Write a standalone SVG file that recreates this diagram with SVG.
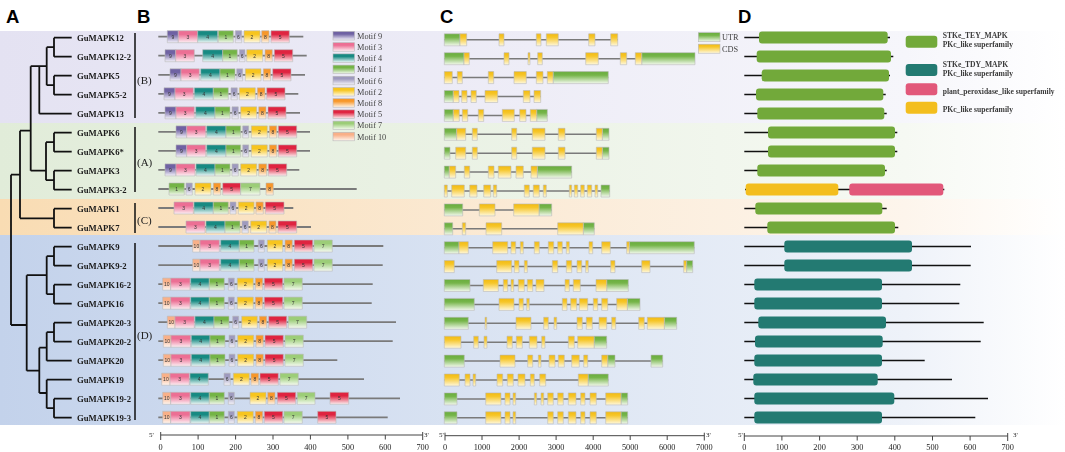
<svg xmlns="http://www.w3.org/2000/svg" width="1065" height="452" viewBox="0 0 1065 452">
<defs>
<filter id="gs" x="-0.05" y="-0.2" width="1.1" height="1.4"><feOffset dx="0" dy="0"/></filter>
<linearGradient id="bgP" x1="0" y1="0" x2="1" y2="0"><stop offset="0" stop-color="#e4e2f2"/><stop offset=".5" stop-color="#eeedf7"/><stop offset=".85" stop-color="#f6f6fb"/><stop offset="1" stop-color="#fff"/></linearGradient>
<linearGradient id="bgG" x1="0" y1="0" x2="1" y2="0"><stop offset="0" stop-color="#e1ecd9"/><stop offset=".5" stop-color="#ecf3e7"/><stop offset=".85" stop-color="#f6f9f3"/><stop offset="1" stop-color="#fff"/></linearGradient>
<linearGradient id="bgO" x1="0" y1="0" x2="1" y2="0"><stop offset="0" stop-color="#f9dcb3"/><stop offset=".5" stop-color="#fbebd7"/><stop offset=".85" stop-color="#fdf5ec"/><stop offset="1" stop-color="#fff"/></linearGradient>
<linearGradient id="bgB" x1="0" y1="0" x2="1" y2="0"><stop offset="0" stop-color="#c3d2eb"/><stop offset=".5" stop-color="#dce5f3"/><stop offset=".85" stop-color="#eef2f9"/><stop offset="1" stop-color="#fff"/></linearGradient>
<linearGradient id="g9" x1="0" y1="0" x2="0" y2="1"><stop offset="0" stop-color="#6f62a3"/><stop offset=".3" stop-color="#6f62a3"/><stop offset="1" stop-color="#f4f2fa"/></linearGradient>
<linearGradient id="g3" x1="0" y1="0" x2="0" y2="1"><stop offset="0" stop-color="#ec6f94"/><stop offset=".3" stop-color="#ec6f94"/><stop offset="1" stop-color="#fdf0f4"/></linearGradient>
<linearGradient id="g4" x1="0" y1="0" x2="0" y2="1"><stop offset="0" stop-color="#178a82"/><stop offset=".3" stop-color="#178a82"/><stop offset="1" stop-color="#eef8f7"/></linearGradient>
<linearGradient id="g1" x1="0" y1="0" x2="0" y2="1"><stop offset="0" stop-color="#74b446"/><stop offset=".3" stop-color="#74b446"/><stop offset="1" stop-color="#f2f9ed"/></linearGradient>
<linearGradient id="g6" x1="0" y1="0" x2="0" y2="1"><stop offset="0" stop-color="#9e9abe"/><stop offset=".3" stop-color="#9e9abe"/><stop offset="1" stop-color="#f5f4fa"/></linearGradient>
<linearGradient id="g2" x1="0" y1="0" x2="0" y2="1"><stop offset="0" stop-color="#f7c51e"/><stop offset=".3" stop-color="#f7c51e"/><stop offset="1" stop-color="#fffbea"/></linearGradient>
<linearGradient id="g8" x1="0" y1="0" x2="0" y2="1"><stop offset="0" stop-color="#f7972a"/><stop offset=".3" stop-color="#f7972a"/><stop offset="1" stop-color="#fff4e8"/></linearGradient>
<linearGradient id="g5" x1="0" y1="0" x2="0" y2="1"><stop offset="0" stop-color="#df2440"/><stop offset=".3" stop-color="#df2440"/><stop offset="1" stop-color="#fdeef0"/></linearGradient>
<linearGradient id="g7" x1="0" y1="0" x2="0" y2="1"><stop offset="0" stop-color="#9ccd78"/><stop offset=".3" stop-color="#9ccd78"/><stop offset="1" stop-color="#f6fbf2"/></linearGradient>
<linearGradient id="g10" x1="0" y1="0" x2="0" y2="1"><stop offset="0" stop-color="#f9b088"/><stop offset=".3" stop-color="#f9b088"/><stop offset="1" stop-color="#fff6f0"/></linearGradient>
<linearGradient id="gu" x1="0" y1="0" x2="0" y2="1"><stop offset="0" stop-color="#68ad3c"/><stop offset=".3" stop-color="#76b54a"/><stop offset="1" stop-color="#f3f9ee"/></linearGradient>
<linearGradient id="gc" x1="0" y1="0" x2="0" y2="1"><stop offset="0" stop-color="#f3bb10"/><stop offset=".3" stop-color="#f6c62a"/><stop offset="1" stop-color="#fff8dc"/></linearGradient>
</defs>
<style>
.pl{font-family:"Liberation Sans",Arial,sans-serif;font-weight:bold;font-size:18.5px;fill:#000}
.tl{font-family:"Liberation Serif","Times New Roman",serif;font-weight:bold;font-size:8.7px;fill:#1a1a1a}
.grp{font-family:"Liberation Serif","Times New Roman",serif;font-size:11px;fill:#222}
.tree{fill:none;stroke:#111;stroke-width:1.8}
.br{stroke:#111;stroke-width:1.5}
.ln{stroke:#7a7a7a;stroke-width:1.8}
.ln2{stroke:#7a7a7a;stroke-width:1.5}
.b{stroke:#b8b8b8;stroke-width:.6}
.m9{fill:url(#g9)}.m3{fill:url(#g3)}.m4{fill:url(#g4)}.m1{fill:url(#g1)}.m6{fill:url(#g6)}
.m2{fill:url(#g2)}.m8{fill:url(#g8)}.m5{fill:url(#g5)}.m7{fill:url(#g7)}.m10{fill:url(#g10)}
.n{font-family:"Liberation Sans",Arial,sans-serif;font-size:5px;fill:#333;text-anchor:middle;dominant-baseline:central;filter:url(#gs)}
.lg{font-family:"Liberation Serif","Times New Roman",serif;font-size:8.3px;fill:#444}
.u{fill:url(#gu);stroke:#b8b8b8;stroke-width:.6}
.c{fill:url(#gc);stroke:#b8b8b8;stroke-width:.6}
.ax{stroke:#444;stroke-width:1;fill:none}
.at{font-family:"Liberation Serif","Times New Roman",serif;font-size:8.3px;fill:#222;text-anchor:middle}
.pr{font-family:"Liberation Serif","Times New Roman",serif;font-size:7px;fill:#222}
.dl{stroke:#111;stroke-width:1.6}
.dg{fill:#72a93a}.dt{fill:#237a72}.dp{fill:#e2587a}.dy{fill:#f3be1e}
.dlg{font-family:"Liberation Serif","Times New Roman",serif;font-weight:bold;font-size:7.6px;fill:#3a3a3a}
.gs{filter:url(#gs)}
</style>

<g id="backgrounds">
<rect x="0" y="31" width="1065" height="92" fill="url(#bgP)"/>
<rect x="0" y="123" width="1065" height="76" fill="url(#bgG)"/>
<rect x="0" y="199" width="1065" height="36" fill="url(#bgO)"/>
<rect x="0" y="235" width="1065" height="190" fill="url(#bgB)"/>
</g>

<g id="panel-labels">
<text class="pl" x="6" y="23">A</text>
<text class="pl" x="137" y="23">B</text>
<text class="pl" x="440" y="23">C</text>
<text class="pl" x="738" y="23">D</text>
</g>

<g id="tree-connectors">
<path class="tree" d="M54 37.7H71.7M54 56.7H71.7M54 37.7V56.7M54 75.7H71.7M54 94.7H71.7M54 75.7V94.7M46.7 47.2H54M46.7 85.2H54M46.7 47.2V85.2M39.3 66.2H46.7M39.3 113.7H71.7M39.3 66.2V113.7M30.7 66.2H39.3
M54 132.7H71.7M54 151.7H71.7M54 132.7V151.7M54 170.7H71.7M54 189.7H71.7M54 170.7V189.7M46 142.2H54M46 180.2H54M46 142.2V180.2M30.7 170.7H46M30.7 66.2V170.7M20 130.7H30.7
M54 208.7H71.7M54 227.7H71.7M54 208.7V227.7M20 218.3H54M20 130.7V218.3M11 174.7H20M11 174.7V325M11 325H26.7
M54 246.7H71.7M54 265.7H71.7M54 246.7V265.7M54 284.7H71.7M54 303.7H71.7M54 284.7V303.7M46.7 256.2H54M46.7 294.2H54M46.7 256.2V294.2M26.7 275.2H46.7M26.7 275.2V370.7M26.7 370.7H39.3
M54 322.7H71.7M54 341.7H71.7M54 322.7V341.7M46.7 332.2H54M46.7 360.7H71.7M46.7 332.2V360.7M39.3 347.7H46.7
M46.7 379.7H71.7M54 398.7H71.7M54 417.7H71.7M54 398.7V417.7M46.7 408.2H54M46.7 379.7V408.2M39.3 393H46.7M39.3 347.7V393"/>
</g>

<g id="gene-labels" class="gs">
<text class="tl" x="77" y="40.7">GuMAPK12</text>
<text class="tl" x="77" y="59.7">GuMAPK12-2</text>
<text class="tl" x="77" y="78.7">GuMAPK5</text>
<text class="tl" x="77" y="97.7">GuMAPK5-2</text>
<text class="tl" x="77" y="116.7">GuMAPK13</text>
<text class="tl" x="77" y="135.7">GuMAPK6</text>
<text class="tl" x="77" y="154.7">GuMAPK6*</text>
<text class="tl" x="77" y="173.7">GuMAPK3</text>
<text class="tl" x="77" y="192.7">GuMAPK3-2</text>
<text class="tl" x="77" y="211.7">GuMAPK1</text>
<text class="tl" x="77" y="230.7">GuMAPK7</text>
<text class="tl" x="77" y="249.7">GuMAPK9</text>
<text class="tl" x="77" y="268.7">GuMAPK9-2</text>
<text class="tl" x="77" y="287.7">GuMAPK16-2</text>
<text class="tl" x="77" y="306.7">GuMAPK16</text>
<text class="tl" x="77" y="325.7">GuMAPK20-3</text>
<text class="tl" x="77" y="344.7">GuMAPK20-2</text>
<text class="tl" x="77" y="363.7">GuMAPK20</text>
<text class="tl" x="77" y="382.7">GuMAPK19</text>
<text class="tl" x="77" y="401.7">GuMAPK19-2</text>
<text class="tl" x="77" y="420.7">GuMAPK19-3</text>
</g>

<g id="group-brackets">
<path class="br" d="M135 33V118M135 127V192M135 203V233M135 243V420"/>
<g class="gs">
<text class="grp" x="137" y="84">(B)</text>
<text class="grp" x="137" y="166">(A)</text>
<text class="grp" x="137" y="224">(C)</text>
<text class="grp" x="137" y="339">(D)</text>
</g>
</g>

<g id="panel-B-motifs">
<g id="motif-GuMAPK12" transform="translate(0,36.7)">
<path class="ln" d="M158.3 0H303.3"/>
<path class="b m9" d="M167.3-6H178.3V6H167.3Z"/><path class="b m3" d="M178.3-6H197.7V6H178.3Z"/><path class="b m4" d="M197.7-6H217.7V6H197.7Z"/><path class="b m1" d="M218.3-6H233.3V6H218.3Z"/><path class="b m6" d="M235.3-6H241.7V6H235.3Z"/><path class="b m2" d="M244-6H260V6H244Z"/><path class="b m8" d="M261.7-6H269V6H261.7Z"/><path class="b m5" d="M271-6H289.3V6H271Z"/>
<g class="n"><text x="172.8">9</text><text x="188">3</text><text x="207.7">4</text><text x="225.8">1</text><text x="238.5">6</text><text x="252">2</text><text x="265.4">8</text><text x="280.2">5</text></g>
</g>
<g id="motif-GuMAPK12-2" transform="translate(0,55.7)">
<path class="ln" d="M158.3 0H306.7"/>
<path class="b m9" d="M165-6H175.7V6H165Z"/><path class="b m3" d="M175.7-6H194.3V6H175.7Z"/><path class="b m4" d="M202.7-6H222.7V6H202.7Z"/><path class="b m1" d="M222.7-6H237.3V6H222.7Z"/><path class="b m6" d="M239.3-6H245V6H239.3Z"/><path class="b m2" d="M246.7-6H262.7V6H246.7Z"/><path class="b m8" d="M265-6H272.3V6H265Z"/><path class="b m5" d="M274.3-6H292.7V6H274.3Z"/>
<g class="n"><text x="170.4">9</text><text x="185">3</text><text x="212.7">4</text><text x="230">1</text><text x="242.2">6</text><text x="254.7">2</text><text x="268.7">8</text><text x="283.5">5</text></g>
</g>
<g id="motif-GuMAPK5" transform="translate(0,74.8)">
<path class="ln" d="M158.3 0H305"/>
<path class="b m9" d="M170-6H181V6H170Z"/><path class="b m3" d="M181-6H199.3V6H181Z"/><path class="b m4" d="M200.7-6H220V6H200.7Z"/><path class="b m1" d="M220-6H235V6H220Z"/><path class="b m6" d="M236.7-6H242.7V6H236.7Z"/><path class="b m2" d="M245.3-6H261V6H245.3Z"/><path class="b m8" d="M263.3-6H270.7V6H263.3Z"/><path class="b m5" d="M272.7-6H291V6H272.7Z"/>
<g class="n"><text x="175.5">9</text><text x="190.2">3</text><text x="210.4">4</text><text x="227.5">1</text><text x="239.7">6</text><text x="253.2">2</text><text x="267">8</text><text x="281.9">5</text></g>
</g>
<g id="motif-GuMAPK5-2" transform="translate(0,93.8)">
<path class="ln" d="M158.3 0H298.3"/>
<path class="b m9" d="M164-6H175V6H164Z"/><path class="b m3" d="M175-6H193.3V6H175Z"/><path class="b m4" d="M194.3-6H213.3V6H194.3Z"/><path class="b m1" d="M213.3-6H228.3V6H213.3Z"/><path class="b m6" d="M231-6H237.3V6H231Z"/><path class="b m2" d="M239.3-6H255.3V6H239.3Z"/><path class="b m8" d="M257.3-6H265V6H257.3Z"/><path class="b m5" d="M266.7-6H285V6H266.7Z"/>
<g class="n"><text x="169.5">9</text><text x="184.2">3</text><text x="203.8">4</text><text x="220.8">1</text><text x="234.2">6</text><text x="247.3">2</text><text x="261.2">8</text><text x="275.9">5</text></g>
</g>
<g id="motif-GuMAPK13" transform="translate(0,112.8)">
<path class="ln" d="M158.3 0H300"/>
<path class="b m9" d="M165-6H176V6H165Z"/><path class="b m3" d="M176-6H194.3V6H176Z"/><path class="b m4" d="M195.7-6H215V6H195.7Z"/><path class="b m1" d="M215-6H230V6H215Z"/><path class="b m6" d="M232-6H238.3V6H232Z"/><path class="b m2" d="M240.7-6H256.7V6H240.7Z"/><path class="b m8" d="M258.7-6H266V6H258.7Z"/><path class="b m5" d="M268-6H286V6H268Z"/>
<g class="n"><text x="170.5">9</text><text x="185.2">3</text><text x="205.4">4</text><text x="222.5">1</text><text x="235.2">6</text><text x="248.7">2</text><text x="262.4">8</text><text x="277">5</text></g>
</g>
<g id="motif-GuMAPK6" transform="translate(0,131.9)">
<path class="ln" d="M158.3 0H310"/>
<path class="b m9" d="M176-6H186.7V6H176Z"/><path class="b m3" d="M186.7-6H205.7V6H186.7Z"/><path class="b m4" d="M206.7-6H226V6H206.7Z"/><path class="b m1" d="M226-6H240.7V6H226Z"/><path class="b m6" d="M242.7-6H248.7V6H242.7Z"/><path class="b m2" d="M251.3-6H267.3V6H251.3Z"/><path class="b m8" d="M269.3-6H276.7V6H269.3Z"/><path class="b m5" d="M278.3-6H296.7V6H278.3Z"/>
<g class="n"><text x="181.4">9</text><text x="196.2">3</text><text x="216.4">4</text><text x="233.4">1</text><text x="245.7">6</text><text x="259.3">2</text><text x="273">8</text><text x="287.5">5</text></g>
</g>
<g id="motif-GuMAPK6star" transform="translate(0,150.9)">
<path class="ln" d="M158.3 0H310"/>
<path class="b m9" d="M176-6H186.7V6H176Z"/><path class="b m3" d="M186.7-6H205.7V6H186.7Z"/><path class="b m4" d="M206.7-6H226V6H206.7Z"/><path class="b m1" d="M226-6H240.7V6H226Z"/><path class="b m6" d="M242.7-6H248.7V6H242.7Z"/><path class="b m2" d="M251.3-6H267.3V6H251.3Z"/><path class="b m8" d="M269.3-6H276.7V6H269.3Z"/><path class="b m5" d="M278.3-6H296.7V6H278.3Z"/>
<g class="n"><text x="181.4">9</text><text x="196.2">3</text><text x="216.4">4</text><text x="233.4">1</text><text x="245.7">6</text><text x="259.3">2</text><text x="273">8</text><text x="287.5">5</text></g>
</g>
<g id="motif-GuMAPK3" transform="translate(0,169.9)">
<path class="ln" d="M158.3 0H299.3"/>
<path class="b m9" d="M165-6H176V6H165Z"/><path class="b m3" d="M176-6H195V6H176Z"/><path class="b m4" d="M196-6H215V6H196Z"/><path class="b m1" d="M215-6H230V6H215Z"/><path class="b m6" d="M232-6H238.3V6H232Z"/><path class="b m2" d="M240.7-6H256.7V6H240.7Z"/><path class="b m8" d="M258.7-6H266.7V6H258.7Z"/><path class="b m5" d="M268.3-6H286.7V6H268.3Z"/>
<g class="n"><text x="170.5">9</text><text x="185.5">3</text><text x="205.5">4</text><text x="222.5">1</text><text x="235.2">6</text><text x="248.7">2</text><text x="262.7">8</text><text x="277.5">5</text></g>
</g>
<g id="motif-GuMAPK3-2" transform="translate(0,189)">
<path class="ln" d="M158.3 0H356.7"/>
<path class="b m1" d="M169-6H184.3V6H169Z"/><path class="b m6" d="M186-6H192.3V6H186Z"/><path class="b m2" d="M195-6H211V6H195Z"/><path class="b m8" d="M213.3-6H220.7V6H213.3Z"/><path class="b m5" d="M222.7-6H240.7V6H222.7Z"/><path class="b m7" d="M240.7-6H260V6H240.7Z"/><path class="b m8" d="M266-6H273.3V6H266Z"/>
<g class="n"><text x="176.7">1</text><text x="189.2">6</text><text x="203">2</text><text x="217">8</text><text x="231.7">5</text><text x="250.4">7</text><text x="269.7">8</text></g>
</g>
<g id="motif-GuMAPK1" transform="translate(0,208)">
<path class="ln" d="M158.3 0H293.3"/>
<path class="b m3" d="M174-6H193.3V6H174Z"/><path class="b m4" d="M194-6H213.3V6H194Z"/><path class="b m1" d="M213.3-6H228.3V6H213.3Z"/><path class="b m6" d="M230-6H236V6H230Z"/><path class="b m2" d="M238.3-6H254V6H238.3Z"/><path class="b m8" d="M256-6H263.3V6H256Z"/><path class="b m5" d="M265.3-6H284V6H265.3Z"/>
<g class="n"><text x="183.7">3</text><text x="203.7">4</text><text x="220.8">1</text><text x="233">6</text><text x="246.2">2</text><text x="259.7">8</text><text x="274.7">5</text></g>
</g>
<g id="motif-GuMAPK7" transform="translate(0,227)">
<path class="ln" d="M158.3 0H311"/>
<path class="b m3" d="M186-6H205V6H186Z"/><path class="b m4" d="M206-6H225V6H206Z"/><path class="b m1" d="M225-6H240V6H225Z"/><path class="b m6" d="M242-6H248.3V6H242Z"/><path class="b m2" d="M250.7-6H266.7V6H250.7Z"/><path class="b m8" d="M269-6H276V6H269Z"/><path class="b m5" d="M278-6H296.7V6H278Z"/>
<g class="n"><text x="195.5">3</text><text x="215.5">4</text><text x="232.5">1</text><text x="245.2">6</text><text x="258.7">2</text><text x="272.5">8</text><text x="287.4">5</text></g>
</g>
<g id="motif-GuMAPK9" transform="translate(0,246)">
<path class="ln" d="M158.3 0H383.3"/>
<path class="b m10" d="M192.7-6H200V6H192.7Z"/><path class="b m3" d="M200-6H219.3V6H200Z"/><path class="b m4" d="M220.7-6H239.3V6H220.7Z"/><path class="b m1" d="M239.3-6H254V6H239.3Z"/><path class="b m6" d="M258.3-6H264.3V6H258.3Z"/><path class="b m2" d="M267.3-6H282.7V6H267.3Z"/><path class="b m8" d="M285-6H292.3V6H285Z"/><path class="b m5" d="M294.3-6H312.7V6H294.3Z"/><path class="b m7" d="M314-6H332.3V6H314Z"/>
<g class="n"><text x="196.4">10</text><text x="209.7">3</text><text x="230">4</text><text x="246.7">1</text><text x="261.3">6</text><text x="275">2</text><text x="288.7">8</text><text x="303.5">5</text><text x="323.2">7</text></g>
</g>
<g id="motif-GuMAPK9-2" transform="translate(0,265.1)">
<path class="ln" d="M158.3 0H382.7"/>
<path class="b m10" d="M192.7-6H200V6H192.7Z"/><path class="b m3" d="M200-6H219.3V6H200Z"/><path class="b m4" d="M220.7-6H239.3V6H220.7Z"/><path class="b m1" d="M239.3-6H254V6H239.3Z"/><path class="b m6" d="M258.3-6H264.3V6H258.3Z"/><path class="b m2" d="M267.3-6H282.7V6H267.3Z"/><path class="b m8" d="M285-6H292.3V6H285Z"/><path class="b m5" d="M294.3-6H312.7V6H294.3Z"/><path class="b m7" d="M314-6H332.3V6H314Z"/>
<g class="n"><text x="196.4">10</text><text x="209.7">3</text><text x="230">4</text><text x="246.7">1</text><text x="261.3">6</text><text x="275">2</text><text x="288.7">8</text><text x="303.5">5</text><text x="323.2">7</text></g>
</g>
<g id="motif-GuMAPK16-2" transform="translate(0,284.1)">
<path class="ln" d="M158.3 0H372.7"/>
<path class="b m10" d="M162.7-6H170.7V6H162.7Z"/><path class="b m3" d="M170.7-6H190V6H170.7Z"/><path class="b m4" d="M190.7-6H209.3V6H190.7Z"/><path class="b m1" d="M209.3-6H224.3V6H209.3Z"/><path class="b m6" d="M228.3-6H234.3V6H228.3Z"/><path class="b m2" d="M237.3-6H253.3V6H237.3Z"/><path class="b m8" d="M255.3-6H262.7V6H255.3Z"/><path class="b m5" d="M264.3-6H282.7V6H264.3Z"/><path class="b m7" d="M284-6H302.3V6H284Z"/>
<g class="n"><text x="166.7">10</text><text x="180.4">3</text><text x="200">4</text><text x="216.8">1</text><text x="231.3">6</text><text x="245.3">2</text><text x="259">8</text><text x="273.5">5</text><text x="293.2">7</text></g>
</g>
<g id="motif-GuMAPK16" transform="translate(0,303.1)">
<path class="ln" d="M158.3 0H371.7"/>
<path class="b m10" d="M162.7-6H170.7V6H162.7Z"/><path class="b m3" d="M170.7-6H190V6H170.7Z"/><path class="b m4" d="M190.7-6H209.3V6H190.7Z"/><path class="b m1" d="M209.3-6H224.3V6H209.3Z"/><path class="b m6" d="M228.3-6H234.3V6H228.3Z"/><path class="b m2" d="M237.3-6H253.3V6H237.3Z"/><path class="b m8" d="M255.3-6H262.7V6H255.3Z"/><path class="b m5" d="M264.3-6H282.7V6H264.3Z"/><path class="b m7" d="M284-6H302.3V6H284Z"/>
<g class="n"><text x="166.7">10</text><text x="180.4">3</text><text x="200">4</text><text x="216.8">1</text><text x="231.3">6</text><text x="245.3">2</text><text x="259">8</text><text x="273.5">5</text><text x="293.2">7</text></g>
</g>
<g id="motif-GuMAPK20-3" transform="translate(0,322.2)">
<path class="ln" d="M158.3 0H396"/>
<path class="b m10" d="M167.3-6H175V6H167.3Z"/><path class="b m3" d="M175-6H194.3V6H175Z"/><path class="b m4" d="M195-6H214V6H195Z"/><path class="b m1" d="M214-6H229V6H214Z"/><path class="b m6" d="M232.7-6H238.7V6H232.7Z"/><path class="b m2" d="M241.7-6H257.3V6H241.7Z"/><path class="b m8" d="M259.3-6H266.7V6H259.3Z"/><path class="b m5" d="M268.7-6H286.7V6H268.7Z"/><path class="b m7" d="M288.3-6H306.7V6H288.3Z"/>
<g class="n"><text x="171.2">10</text><text x="184.7">3</text><text x="204.5">4</text><text x="221.5">1</text><text x="235.7">6</text><text x="249.5">2</text><text x="263">8</text><text x="277.7">5</text><text x="297.5">7</text></g>
</g>
<g id="motif-GuMAPK20-2" transform="translate(0,341.2)">
<path class="ln" d="M158.3 0H392.7"/>
<path class="b m10" d="M163.3-6H171V6H163.3Z"/><path class="b m3" d="M171-6H190.7V6H171Z"/><path class="b m4" d="M191.3-6H210V6H191.3Z"/><path class="b m1" d="M210-6H225V6H210Z"/><path class="b m6" d="M229-6H235V6H229Z"/><path class="b m2" d="M237.7-6H253.7V6H237.7Z"/><path class="b m8" d="M256-6H263.3V6H256Z"/><path class="b m5" d="M265-6H283.3V6H265Z"/><path class="b m7" d="M285-6H303.3V6H285Z"/>
<g class="n"><text x="167.2">10</text><text x="180.9">3</text><text x="200.7">4</text><text x="217.5">1</text><text x="232">6</text><text x="245.7">2</text><text x="259.7">8</text><text x="274.2">5</text><text x="294.2">7</text></g>
</g>
<g id="motif-GuMAPK20" transform="translate(0,360.2)">
<path class="ln" d="M158.3 0H337.3"/>
<path class="b m10" d="M163.3-6H171V6H163.3Z"/><path class="b m3" d="M171-6H190.7V6H171Z"/><path class="b m4" d="M191.3-6H210V6H191.3Z"/><path class="b m1" d="M210-6H225V6H210Z"/><path class="b m6" d="M229-6H235V6H229Z"/><path class="b m2" d="M237.7-6H253.7V6H237.7Z"/><path class="b m8" d="M256-6H263.3V6H256Z"/><path class="b m5" d="M265-6H283.3V6H265Z"/><path class="b m7" d="M285-6H303.3V6H285Z"/>
<g class="n"><text x="167.2">10</text><text x="180.9">3</text><text x="200.7">4</text><text x="217.5">1</text><text x="232">6</text><text x="245.7">2</text><text x="259.7">8</text><text x="274.2">5</text><text x="294.2">7</text></g>
</g>
<g id="motif-GuMAPK19" transform="translate(0,379.2)">
<path class="ln" d="M158.3 0H364"/>
<path class="b m10" d="M161.7-6H170V6H161.7Z"/><path class="b m3" d="M170-6H189.3V6H170Z"/><path class="b m4" d="M190-6H208.3V6H190Z"/><path class="b m6" d="M224-6H230.3V6H224Z"/><path class="b m2" d="M233.3-6H249.3V6H233.3Z"/><path class="b m8" d="M251-6H258.7V6H251Z"/><path class="b m5" d="M260-6H278.3V6H260Z"/><path class="b m7" d="M280-6H298.3V6H280Z"/>
<g class="n"><text x="165.9">10</text><text x="179.7">3</text><text x="199.2">4</text><text x="227.2">6</text><text x="241.3">2</text><text x="254.9">8</text><text x="269.2">5</text><text x="289.2">7</text></g>
</g>
<g id="motif-GuMAPK19-2" transform="translate(0,398.3)">
<path class="ln" d="M158.3 0H400"/>
<path class="b m10" d="M162.7-6H170.7V6H162.7Z"/><path class="b m3" d="M170.7-6H190V6H170.7Z"/><path class="b m4" d="M190.7-6H209.3V6H190.7Z"/><path class="b m1" d="M209.3-6H224.3V6H209.3Z"/><path class="b m6" d="M228.3-6H234.3V6H228.3Z"/><path class="b m2" d="M250-6H266V6H250Z"/><path class="b m8" d="M267.7-6H275V6H267.7Z"/><path class="b m5" d="M277.3-6H295.7V6H277.3Z"/><path class="b m7" d="M297.3-6H315V6H297.3Z"/><path class="b m5" d="M330-6H348.7V6H330Z"/>
<g class="n"><text x="166.7">10</text><text x="180.4">3</text><text x="200">4</text><text x="216.8">1</text><text x="231.3">6</text><text x="258">2</text><text x="271.4">8</text><text x="286.5">5</text><text x="306.2">7</text><text x="339.4">5</text></g>
</g>
<g id="motif-GuMAPK19-3" transform="translate(0,417.3)">
<path class="ln" d="M158.3 0H387.7"/>
<path class="b m10" d="M162.7-6H170.7V6H162.7Z"/><path class="b m3" d="M170.7-6H190V6H170.7Z"/><path class="b m4" d="M190.7-6H209.3V6H190.7Z"/><path class="b m1" d="M209.3-6H224.3V6H209.3Z"/><path class="b m6" d="M228.3-6H234.3V6H228.3Z"/><path class="b m2" d="M237.3-6H253.3V6H237.3Z"/><path class="b m8" d="M255.3-6H262.7V6H255.3Z"/><path class="b m5" d="M264.3-6H282.7V6H264.3Z"/><path class="b m7" d="M284-6H302.3V6H284Z"/><path class="b m5" d="M317.7-6H336V6H317.7Z"/>
<g class="n"><text x="166.7">10</text><text x="180.4">3</text><text x="200">4</text><text x="216.8">1</text><text x="231.3">6</text><text x="245.3">2</text><text x="259">8</text><text x="273.5">5</text><text x="293.2">7</text><text x="326.9">5</text></g>
</g>
</g>

<g id="motif-legend">
<rect class="b m9" x="333" y="31.5" width="21.5" height="8.5"/>
<rect class="b m3" x="333" y="42.7" width="21.5" height="8.5"/>
<rect class="b m4" x="333" y="53.9" width="21.5" height="8.5"/>
<rect class="b m1" x="333" y="65.1" width="21.5" height="8.5"/>
<rect class="b m6" x="333" y="76.3" width="21.5" height="8.5"/>
<rect class="b m2" x="333" y="87.5" width="21.5" height="8.5"/>
<rect class="b m8" x="333" y="98.7" width="21.5" height="8.5"/>
<rect class="b m5" x="333" y="109.9" width="21.5" height="8.5"/>
<rect class="b m7" x="333" y="121.1" width="21.5" height="8.5"/>
<rect class="b m10" x="333" y="132.3" width="21.5" height="8.5"/>
<g class="gs">
<text class="lg" x="357" y="38.8">Motif 9</text>
<text class="lg" x="357" y="50">Motif 3</text>
<text class="lg" x="357" y="61.2">Motif 4</text>
<text class="lg" x="357" y="72.4">Motif 1</text>
<text class="lg" x="357" y="83.6">Motif 6</text>
<text class="lg" x="357" y="94.8">Motif 2</text>
<text class="lg" x="357" y="106">Motif 8</text>
<text class="lg" x="357" y="117.2">Motif 5</text>
<text class="lg" x="357" y="128.4">Motif 7</text>
<text class="lg" x="357" y="139.6">Motif 10</text>
</g>
</g>

<g id="axis-B">
<path class="ax" d="M160.7 435H422.7M160.7 432V440M198.1 435V439.5M235.6 435V439.5M273 435V439.5M310.4 435V439.5M347.9 435V439.5M385.3 435V439.5M422.7 432V440"/>
<g class="gs">
<text class="pr" x="149" y="437">5'</text><text class="pr" x="424" y="437">3'</text>
<text class="at" x="160.7" y="450">0</text><text class="at" x="198.1" y="450">100</text><text class="at" x="235.6" y="450">200</text><text class="at" x="273" y="450">300</text><text class="at" x="310.4" y="450">400</text><text class="at" x="347.9" y="450">500</text><text class="at" x="385.3" y="450">600</text><text class="at" x="422.7" y="450">700</text>
</g>
</g>

<g id="panel-C-genes">
<g id="gene-GuMAPK12" transform="translate(0,39.8)"><path class="ln2" d="M444.3 0H617.7"/><path class="u" d="M444.3-6H460V6H444.3Z"/><path class="c" d="M460-6H466.7V6H460ZM499-6H504V6H499ZM536.3-6H541V6H536.3ZM546.3-6H558.3V6H546.3ZM588.7-6H595V6H588.7ZM610.7-6H617.7V6H610.7Z"/></g>
<g id="gene-GuMAPK12-2" transform="translate(0,58.7)"><path class="ln2" d="M444.3 0H695"/><path class="u" d="M444.3-6H464V6H444.3ZM641.7-6H695V6H641.7Z"/><path class="c" d="M464-6H469.3V6H464ZM504-6H509V6H504ZM528-6H530V6H528ZM537.7-6H542.3V6H537.7ZM585.7-6H598.3V6H585.7ZM620.3-6H626.7V6H620.3ZM635.3-6H641.7V6H635.3Z"/></g>
<g id="gene-GuMAPK5" transform="translate(0,77.6)"><path class="ln2" d="M444.3 0H608.3"/><path class="c" d="M444.3-6H452.3V6H444.3ZM457.3-6H462.3V6H457.3ZM488.3-6H493.7V6H488.3ZM514-6H526.3V6H514ZM536.3-6H543V6H536.3ZM547.3-6H553.3V6H547.3Z"/><path class="u" d="M553.3-6H608.3V6H553.3Z"/></g>
<g id="gene-GuMAPK5-2" transform="translate(0,96.5)"><path class="ln2" d="M444.3 0H540.7"/><path class="u" d="M444.3-6H453.3V6H444.3Z"/><path class="c" d="M453.3-6H459V6H453.3ZM461.7-6H467V6H461.7ZM471-6H476.3V6H471ZM485-6H497.7V6H485ZM523.3-6H530V6H523.3ZM534-6H540.7V6H534Z"/></g>
<g id="gene-GuMAPK13" transform="translate(0,115.4)"><path class="ln2" d="M444.3 0H547.3"/><path class="u" d="M444.3-6H453.3V6H444.3ZM536.7-6H547.3V6H536.7Z"/><path class="c" d="M453.3-6H459.3V6H453.3ZM462.3-6H467.7V6H462.3ZM478.3-6H483.7V6H478.3ZM502.3-6H514.3V6H502.3ZM519.7-6H526V6H519.7ZM530.3-6H536.7V6H530.3Z"/></g>
<g id="gene-GuMAPK6" transform="translate(0,134.3)"><path class="ln2" d="M444.3 0H609"/><path class="u" d="M444.3-6H456.7V6H444.3ZM602.3-6H609V6H602.3Z"/><path class="c" d="M456.7-6H465.7V6H456.7ZM472.3-6H477.3V6H472.3ZM511.7-6H516.7V6H511.7ZM532.3-6H545V6H532.3ZM558.3-6H565V6H558.3ZM596.3-6H602.3V6H596.3Z"/></g>
<g id="gene-GuMAPK6star" transform="translate(0,153.2)"><path class="ln2" d="M444.3 0H609"/><path class="u" d="M444.3-6H450V6H444.3ZM602.3-6H609V6H602.3Z"/><path class="c" d="M455.7-6H465.7V6H455.7ZM472.3-6H477.3V6H472.3ZM511.7-6H516.7V6H511.7ZM532.3-6H545V6H532.3ZM558.3-6H565V6H558.3ZM596.3-6H602.3V6H596.3Z"/></g>
<g id="gene-GuMAPK3" transform="translate(0,172.1)"><path class="ln2" d="M444.3 0H571.7"/><path class="u" d="M444.3-6H449.3V6H444.3ZM537.3-6H571.7V6H537.3Z"/><path class="c" d="M449.3-6H455.7V6H449.3ZM464.3-6H469.7V6H464.3ZM488.3-6H494V6H488.3ZM498.3-6H511V6H498.3ZM516-6H523.3V6H516ZM531-6H537.3V6H531Z"/></g>
<g id="gene-GuMAPK3-2" transform="translate(0,191)"><path class="ln2" d="M444.3 0H609.7"/><path class="c" d="M444.3-6H447.3V6H444.3ZM451.7-6H464.3V6H451.7ZM469.7-6H477V6H469.7ZM483.7-6H490.7V6H483.7ZM493.3-6H496.7V6H493.3ZM524.3-6H529.3V6H524.3ZM533.3-6H539.3V6H533.3ZM543.3-6H546.3V6H543.3ZM569.3-6H571.7V6H569.3ZM574.3-6H577.7V6H574.3ZM580.7-6H584.3V6H580.7ZM587.3-6H591.7V6H587.3ZM595-6H597.7V6H595Z"/><path class="u" d="M601-6H609.7V6H601Z"/></g>
<g id="gene-GuMAPK1" transform="translate(0,209.9)"><path class="ln2" d="M444.3 0H551.7"/><path class="u" d="M444.3-6H462.7V6H444.3ZM539-6H551.7V6H539Z"/><path class="c" d="M479.3-6H495V6H479.3ZM513.7-6H539V6H513.7Z"/></g>
<g id="gene-GuMAPK7" transform="translate(0,228.8)"><path class="ln2" d="M444.3 0H594.3"/><path class="u" d="M444.3-6H452.7V6H444.3ZM583.3-6H594.3V6H583.3Z"/><path class="c" d="M462.3-6H465.7V6H462.3ZM486-6H501.7V6H486ZM557.7-6H583.3V6H557.7Z"/></g>
<g id="gene-GuMAPK9" transform="translate(0,247.7)"><path class="ln2" d="M444.3 0H694.3"/><path class="u" d="M444.3-6H459V6H444.3ZM629.3-6H694.3V6H629.3Z"/><path class="c" d="M459-6H468.3V6H459ZM492.7-6H507.7V6H492.7ZM511-6H515.7V6H511ZM520.3-6H523.3V6H520.3ZM534.3-6H539.3V6H534.3ZM548.3-6H553.7V6H548.3ZM557.7-6H562.3V6H557.7ZM566.3-6H569.3V6H566.3ZM589-6H592.7V6H589ZM601.7-6H610.3V6H601.7ZM626.7-6H629.3V6H626.7Z"/></g>
<g id="gene-GuMAPK9-2" transform="translate(0,266.6)"><path class="ln2" d="M444.3 0H692.7"/><path class="c" d="M444.3-6H454.3V6H444.3ZM496.7-6H511.7V6H496.7ZM514.3-6H519V6H514.3ZM524.3-6H527.3V6H524.3ZM552.3-6H557.7V6H552.3ZM566.3-6H571.7V6H566.3ZM577-6H581.7V6H577ZM585.7-6H588.3V6H585.7ZM610.7-6H615V6H610.7ZM641.7-6H650V6H641.7ZM683.7-6H686.7V6H683.7Z"/><path class="u" d="M686.7-6H692.7V6H686.7Z"/></g>
<g id="gene-GuMAPK16-2" transform="translate(0,285.5)"><path class="ln2" d="M444.3 0H628.3"/><path class="u" d="M444.3-6H470V6H444.3ZM606.7-6H628.3V6H606.7Z"/><path class="c" d="M483.3-6H498.3V6H483.3ZM503.3-6H507.7V6H503.3ZM511-6H513.7V6H511ZM518.3-6H524.3V6H518.3ZM527.3-6H532.7V6H527.3ZM536-6H544V6H536ZM565-6H569.3V6H565ZM573.3-6H580.3V6H573.3ZM596-6H606.7V6H596Z"/></g>
<g id="gene-GuMAPK16" transform="translate(0,304.4)"><path class="ln2" d="M444.3 0H640"/><path class="u" d="M444.3-6H474.3V6H444.3ZM627.3-6H640V6H627.3Z"/><path class="c" d="M499-6H514V6H499ZM519-6H523.3V6H519ZM526.7-6H529.3V6H526.7ZM562.3-6H567V6H562.3ZM570.7-6H576.7V6H570.7ZM579.3-6H587.7V6H579.3ZM593.3-6H597.7V6H593.3ZM601.7-6H607.7V6H601.7ZM616.7-6H627.3V6H616.7Z"/></g>
<g id="gene-GuMAPK20-3" transform="translate(0,323.3)"><path class="ln2" d="M444.3 0H676.7"/><path class="u" d="M444.3-6H468.3V6H444.3ZM664.3-6H676.7V6H664.3Z"/><path class="c" d="M485-6H486.7V6H485ZM516-6H531V6H516ZM543.7-6H548.3V6H543.7ZM554-6H556.7V6H554ZM577-6H582.3V6H577ZM586.3-6H592.3V6H586.3ZM599-6H606.7V6H599ZM611.7-6H615.7V6H611.7ZM638.7-6H644.3V6H638.7ZM647.3-6H664.3V6H647.3Z"/></g>
<g id="gene-GuMAPK20-2" transform="translate(0,342.2)"><path class="ln2" d="M444.3 0H606.7"/><path class="c" d="M444.3-6H461V6H444.3ZM473.7-6H478.3V6H473.7ZM484-6H487V6H484ZM507-6H512.3V6H507ZM516.3-6H522.3V6H516.3ZM529.3-6H537V6H529.3ZM541.7-6H545V6H541.7ZM568.3-6H574.3V6H568.3ZM577.7-6H594.3V6H577.7Z"/><path class="u" d="M594.3-6H606.7V6H594.3Z"/></g>
<g id="gene-GuMAPK20" transform="translate(0,361.1)"><path class="ln2" d="M444.3 0H662.7"/><path class="u" d="M444.3-6H464.3V6H444.3ZM607.7-6H615V6H607.7ZM651-6H662.7V6H651Z"/><path class="c" d="M500-6H515V6H500ZM527.7-6H532.7V6H527.7ZM538.3-6H541V6H538.3ZM549-6H555V6H549ZM558.3-6H564.3V6H558.3ZM571.7-6H579.3V6H571.7ZM583.7-6H587.7V6H583.7ZM601.7-6H607.7V6H601.7Z"/></g>
<g id="gene-GuMAPK19" transform="translate(0,380)"><path class="ln2" d="M444.3 0H608.3"/><path class="c" d="M444.3-6H459.3V6H444.3ZM465-6H470V6H465ZM473-6H475.7V6H473ZM497-6H502.7V6H497ZM507.3-6H513.3V6H507.3ZM518-6H525V6H518ZM530.3-6H534.3V6H530.3ZM539.7-6H545.7V6H539.7ZM578.3-6H588.3V6H578.3Z"/><path class="u" d="M588.3-6H608.3V6H588.3Z"/></g>
<g id="gene-GuMAPK19-2" transform="translate(0,398.9)"><path class="ln2" d="M444.3 0H627.7"/><path class="u" d="M444.3-6H457V6H444.3ZM621-6H627.7V6H621Z"/><path class="c" d="M485.7-6H501V6H485.7ZM505-6H510V6H505ZM513-6H515.7V6H513ZM534.3-6H536.7V6H534.3ZM541-6H543.7V6H541ZM547.7-6H553.3V6H547.7ZM557.7-6H563.3V6H557.7ZM568.3-6H576V6H568.3ZM580.7-6H585V6H580.7ZM590-6H596.3V6H590ZM605.7-6H621V6H605.7Z"/></g>
<g id="gene-GuMAPK19-3" transform="translate(0,417.8)"><path class="ln2" d="M444.3 0H627.7"/><path class="u" d="M444.3-6H457V6H444.3ZM621-6H627.7V6H621Z"/><path class="c" d="M485.7-6H501V6H485.7ZM505-6H510V6H505ZM513-6H515.7V6H513ZM547.7-6H553.3V6H547.7ZM557.7-6H563.3V6H557.7ZM568.3-6H576V6H568.3ZM580.7-6H585V6H580.7ZM590-6H596.3V6H590ZM605.7-6H621V6H605.7Z"/></g>
</g>

<g id="gene-legend">
<rect class="u" x="698.3" y="32.7" width="21.7" height="9"/>
<rect class="c" x="698.3" y="44.2" width="21.7" height="9"/>
<g class="gs"><text class="lg" x="722" y="40">UTR</text><text class="lg" x="722" y="51.5">CDS</text></g>
</g>

<g id="axis-C">
<path class="ax" d="M445 435.7H704.3M445 432.7V440.5M482 435.7V440M519.1 435.7V440M556.1 435.7V440M593.2 435.7V440M630.2 435.7V440M667.2 435.7V440M704.3 432.7V440.5"/>
<g class="gs">
<text class="pr" x="439" y="437">5'</text><text class="pr" x="706" y="437">3'</text>
<text class="at" x="445" y="450">0</text><text class="at" x="482" y="450">1000</text><text class="at" x="519.1" y="450">2000</text><text class="at" x="556.1" y="450">3000</text><text class="at" x="593.2" y="450">4000</text><text class="at" x="630.2" y="450">5000</text><text class="at" x="667.2" y="450">6000</text><text class="at" x="704.3" y="450">7000</text>
</g>
</g>

<g id="panel-D-domains">
<g id="domain-GuMAPK12" transform="translate(0,37.5)"><path class="dl" d="M744.3 0H890"/><rect class="dg" x="759" y="-6" width="128.7" height="12" rx="3"/></g>
<g id="domain-GuMAPK12-2" transform="translate(0,56.5)"><path class="dl" d="M744.3 0H893.3"/><rect class="dg" x="756.7" y="-6" width="134.3" height="12" rx="3"/></g>
<g id="domain-GuMAPK5" transform="translate(0,75.5)"><path class="dl" d="M744.3 0H890"/><rect class="dg" x="761.7" y="-6" width="127.3" height="12" rx="3"/></g>
<g id="domain-GuMAPK5-2" transform="translate(0,94.5)"><path class="dl" d="M744.3 0H885.7"/><rect class="dg" x="756" y="-6" width="127.3" height="12" rx="3"/></g>
<g id="domain-GuMAPK13" transform="translate(0,113.5)"><path class="dl" d="M744.3 0H886.7"/><rect class="dg" x="757.3" y="-6" width="127" height="12" rx="3"/></g>
<g id="domain-GuMAPK6" transform="translate(0,132.5)"><path class="dl" d="M744.3 0H897.3"/><rect class="dg" x="768" y="-6" width="127" height="12" rx="3"/></g>
<g id="domain-GuMAPK6star" transform="translate(0,151.5)"><path class="dl" d="M744.3 0H897.3"/><rect class="dg" x="768" y="-6" width="127" height="12" rx="3"/></g>
<g id="domain-GuMAPK3" transform="translate(0,170.5)"><path class="dl" d="M744.3 0H886.7"/><rect class="dg" x="757.3" y="-6" width="127.7" height="12" rx="3"/></g>
<g id="domain-GuMAPK3-2" transform="translate(0,189.5)"><path class="dl" d="M745 0H944.3"/><rect class="dy" x="745.7" y="-6" width="92.6" height="12" rx="3"/><rect class="dp" x="849.3" y="-6" width="94" height="12" rx="3"/></g>
<g id="domain-GuMAPK1" transform="translate(0,208.5)"><path class="dl" d="M744.3 0H886.7"/><rect class="dg" x="755.3" y="-6" width="127" height="12" rx="3"/></g>
<g id="domain-GuMAPK7" transform="translate(0,227.5)"><path class="dl" d="M744.3 0H898.3"/><rect class="dg" x="767.3" y="-6" width="127.7" height="12" rx="3"/></g>
<g id="domain-GuMAPK9" transform="translate(0,246.5)"><path class="dl" d="M744.3 0H971"/><rect class="dt" x="784.3" y="-6" width="127.7" height="12" rx="3"/></g>
<g id="domain-GuMAPK9-2" transform="translate(0,265.5)"><path class="dl" d="M744.3 0H970.7"/><rect class="dt" x="784.3" y="-6" width="127.7" height="12" rx="3"/></g>
<g id="domain-GuMAPK16-2" transform="translate(0,284.5)"><path class="dl" d="M744.3 0H960.3"/><rect class="dt" x="754.3" y="-6" width="127.7" height="12" rx="3"/></g>
<g id="domain-GuMAPK16" transform="translate(0,303.5)"><path class="dl" d="M744.3 0H959.3"/><rect class="dt" x="754.3" y="-6" width="127.7" height="12" rx="3"/></g>
<g id="domain-GuMAPK20-3" transform="translate(0,322.5)"><path class="dl" d="M744.3 0H983.7"/><rect class="dt" x="758.3" y="-6" width="127.7" height="12" rx="3"/></g>
<g id="domain-GuMAPK20-2" transform="translate(0,341.5)"><path class="dl" d="M744.3 0H980.7"/><rect class="dt" x="755" y="-6" width="127.7" height="12" rx="3"/></g>
<g id="domain-GuMAPK20" transform="translate(0,360.5)"><path class="dl" d="M744.3 0H924.7"/><rect class="dt" x="754.3" y="-6" width="127.7" height="12" rx="3"/></g>
<g id="domain-GuMAPK19" transform="translate(0,379.5)"><path class="dl" d="M744.3 0H952"/><rect class="dt" x="753.3" y="-6" width="124.4" height="12" rx="3"/></g>
<g id="domain-GuMAPK19-2" transform="translate(0,398.5)"><path class="dl" d="M744.3 0H988"/><rect class="dt" x="754.3" y="-6" width="140" height="12" rx="3"/></g>
<g id="domain-GuMAPK19-3" transform="translate(0,417.5)"><path class="dl" d="M744.3 0H975.3"/><rect class="dt" x="754.3" y="-6" width="127.7" height="12" rx="3"/></g>
</g>

<g id="domain-legend">
<rect class="dg" x="905.7" y="35.7" width="31.6" height="12" rx="3"/>
<rect class="dt" x="905.7" y="64" width="31.6" height="12" rx="3"/>
<rect class="dp" x="905.7" y="83.3" width="31.6" height="12" rx="3"/>
<rect class="dy" x="905.7" y="101.7" width="31.6" height="12" rx="3"/>
<g class="gs">
<text class="dlg" x="942.7" y="38.3">STKe_TEY_MAPK</text><text class="dlg" x="942.7" y="47">PKc_like superfamily</text>
<text class="dlg" x="942.7" y="66.7">STKe_TDY_MAPK</text><text class="dlg" x="942.7" y="75.5">PKc_like superfamily</text>
<text class="dlg" x="942.7" y="94.3">plant_peroxidase_like superfamily</text>
<text class="dlg" x="942.7" y="112">PKc_like superfamily</text>
</g>
</g>

<g id="axis-D">
<path class="ax" d="M744.3 436H1007.7M744.3 433V441M781.9 436V440.5M819.6 436V440.5M857.2 436V440.5M894.8 436V440.5M932.5 436V440.5M970.1 436V440.5M1007.7 433V441"/>
<g class="gs">
<text class="pr" x="738" y="437">5'</text><text class="pr" x="1013" y="437">3'</text>
<text class="at" x="744.3" y="450">0</text><text class="at" x="781.9" y="450">100</text><text class="at" x="819.6" y="450">200</text><text class="at" x="857.2" y="450">300</text><text class="at" x="894.8" y="450">400</text><text class="at" x="932.5" y="450">500</text><text class="at" x="970.1" y="450">600</text><text class="at" x="1007.7" y="450">700</text>
</g>
</g>
</svg>
